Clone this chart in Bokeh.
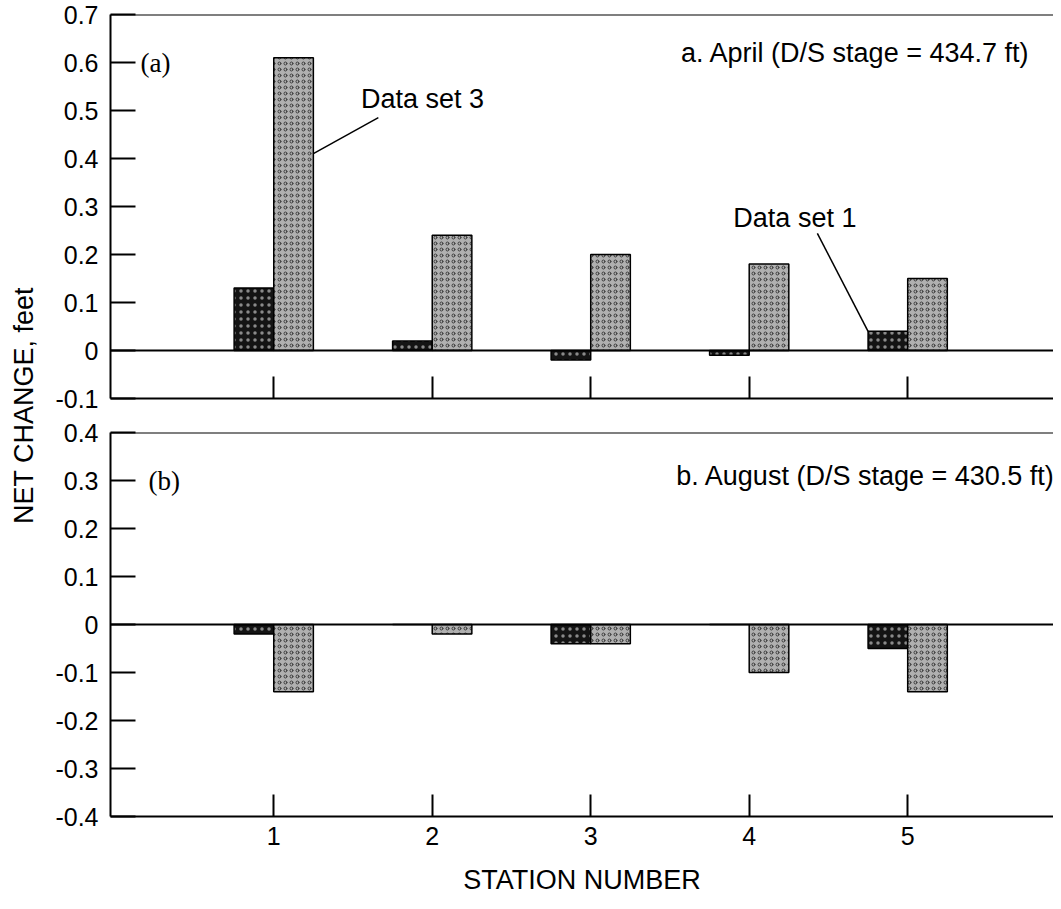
import math
from bokeh.plotting import figure
from bokeh.layouts import row, column
from bokeh.models import Range1d, Span, Label, FixedTicker, ColumnDataSource
from bokeh.transform import dodge
from bokeh.embed import file_html
from bokeh.resources import INLINE

# ---- data ----
stations = [1, 2, 3, 4, 5]
station_labels = ["1", "2", "3", "4", "5"]
april_set1 = [0.13, 0.02, -0.02, -0.01, 0.04]
april_set3 = [0.61, 0.24, 0.20, 0.18, 0.15]
august_set1 = [-0.02, 0.0, -0.04, 0.0, -0.05]
august_set3 = [-0.14, -0.02, -0.04, -0.10, -0.14]
top_ticks = [-0.1, 0.0, 0.1, 0.2, 0.3, 0.4, 0.5, 0.6, 0.7]
top_tick_labels = ["-0.1", "0", "0.1", "0.2", "0.3", "0.4", "0.5", "0.6", "0.7"]
bottom_ticks = [-0.4, -0.3, -0.2, -0.1, 0.0, 0.1, 0.2, 0.3, 0.4]
bottom_tick_labels = ["-0.4", "-0.3", "-0.2", "-0.1", "0", "0.1", "0.2", "0.3", "0.4"]

FONT = "Liberation Sans"
SERIF = "Liberation Serif"
FS = "25px"
AFS = "27px"

DARK = dict(fill_color="#141414", hatch_pattern="dot", hatch_color="#8a8a8a",
            hatch_scale=7, hatch_weight=1.0, line_color="black", line_width=1.5)
LIGHT = dict(fill_color="#b0b0b0", hatch_pattern="ring", hatch_color="#2e2e2e",
             hatch_scale=6, hatch_weight=0.9, line_color="black", line_width=1.5)


def make_panel(y0, y1, ticks, tick_labels, height, b_top, b_bottom, s1, s3, show_x_labels):
    p = figure(width=1005, height=height, x_range=Range1d(-0.03, 5.92),
               y_range=Range1d(y0, y1), toolbar_location=None, output_backend="svg",
               min_border_left=62, min_border_right=0, min_border_top=b_top,
               min_border_bottom=b_bottom)
    p.outline_line_color = None
    p.grid.visible = False
    p.background_fill_color = "white"

    ya = p.yaxis[0]
    ya.ticker = FixedTicker(ticks=ticks)
    ya.major_label_overrides = {t: l for t, l in zip(ticks, tick_labels)}
    ya.major_tick_in = 25
    ya.major_tick_out = 0
    ya.minor_tick_line_color = None
    ya.axis_line_width = 2
    ya.major_tick_line_width = 2
    ya.major_label_standoff = 12
    ya.major_label_text_font = FONT
    ya.major_label_text_font_size = FS
    ya.major_label_text_color = "black"

    xa = p.xaxis[0]
    xa.ticker = FixedTicker(ticks=stations)
    xa.major_tick_in = 22
    xa.major_tick_out = 0
    xa.minor_tick_line_color = None
    xa.axis_line_width = 2
    xa.major_tick_line_width = 2
    if show_x_labels:
        xa.major_label_overrides = {s: l for s, l in zip(stations, station_labels)}
        xa.major_label_text_font = FONT
        xa.major_label_text_font_size = FS
        xa.major_label_text_color = "black"
        xa.major_label_standoff = 10
        xa.axis_label = "STATION NUMBER"
        xa.axis_label_text_font = FONT
        xa.axis_label_text_font_size = AFS
        xa.axis_label_text_font_style = "normal"
        xa.axis_label_text_color = "black"
        xa.axis_label_standoff = 17
    else:
        xa.major_label_text_font_size = "1px"
        xa.major_label_text_color = None
        xa.major_label_standoff = 0

    p.add_layout(Span(location=y1, dimension="width", line_color="black", line_width=2))
    p.add_layout(Span(location=0, dimension="width", line_color="black", line_width=2))

    src = ColumnDataSource(dict(station=stations, s1=s1, s3=s3))
    p.vbar(x=dodge("station", -0.125, range=p.x_range), top="s1", bottom=0, width=0.25,
           source=src, **DARK)
    p.vbar(x=dodge("station", 0.125, range=p.x_range), top="s3", bottom=0, width=0.25,
           source=src, **LIGHT)
    return p


top = make_panel(-0.1, 0.7, top_ticks, top_tick_labels, 415, 14, 17,
                 april_set1, april_set3, False)
bottom = make_panel(-0.4, 0.4, bottom_ticks, bottom_tick_labels, 485, 17, 84,
                    august_set1, august_set3, True)

# annotations, top panel
top.add_layout(Label(x=0.16, y=0.6, text="(a)", text_font=SERIF, text_font_size=AFS,
                     text_baseline="middle", text_color="black"))
top.add_layout(Label(x=3.57, y=0.62, text="a. April (D/S stage = 434.7 ft)", text_font=FONT,
                     text_font_size=AFS, text_baseline="middle", text_color="black"))
top.add_layout(Label(x=1.55, y=0.523, text="Data set 3", text_font=FONT, text_font_size=AFS,
                     text_baseline="middle", text_color="black"))
top.add_layout(Label(x=3.90, y=0.277, text="Data set 1", text_font=FONT, text_font_size=AFS,
                     text_baseline="middle", text_color="black"))
top.segment(x0=[1.25, 4.43], y0=[0.41, 0.244], x1=[1.66, 4.75], y1=[0.485, 0.04],
            line_color="black", line_width=1.5)

# annotations, bottom panel
bottom.add_layout(Label(x=0.21, y=0.3, text="(b)", text_font=SERIF, text_font_size=AFS,
                        text_baseline="middle", text_color="black"))
bottom.add_layout(Label(x=3.54, y=0.31, text="b. August (D/S stage = 430.5 ft)", text_font=FONT,
                        text_font_size=AFS, text_baseline="middle", text_color="black"))

# shared y-axis title
lab = figure(width=48, height=900, x_range=Range1d(0, 48), y_range=Range1d(0, 900),
             toolbar_location=None, output_backend="svg", min_border=0)
lab.outline_line_color = None
lab.axis.visible = False
lab.grid.visible = False
lab.add_layout(Label(x=23, y=495, text="NET CHANGE, feet", angle=math.pi / 2,
                     text_font=FONT, text_font_size=AFS, text_align="center",
                     text_baseline="middle", text_color="black"))

layout = row(lab, column(top, bottom))
open("out.html", "w").write(file_html(layout, INLINE))
